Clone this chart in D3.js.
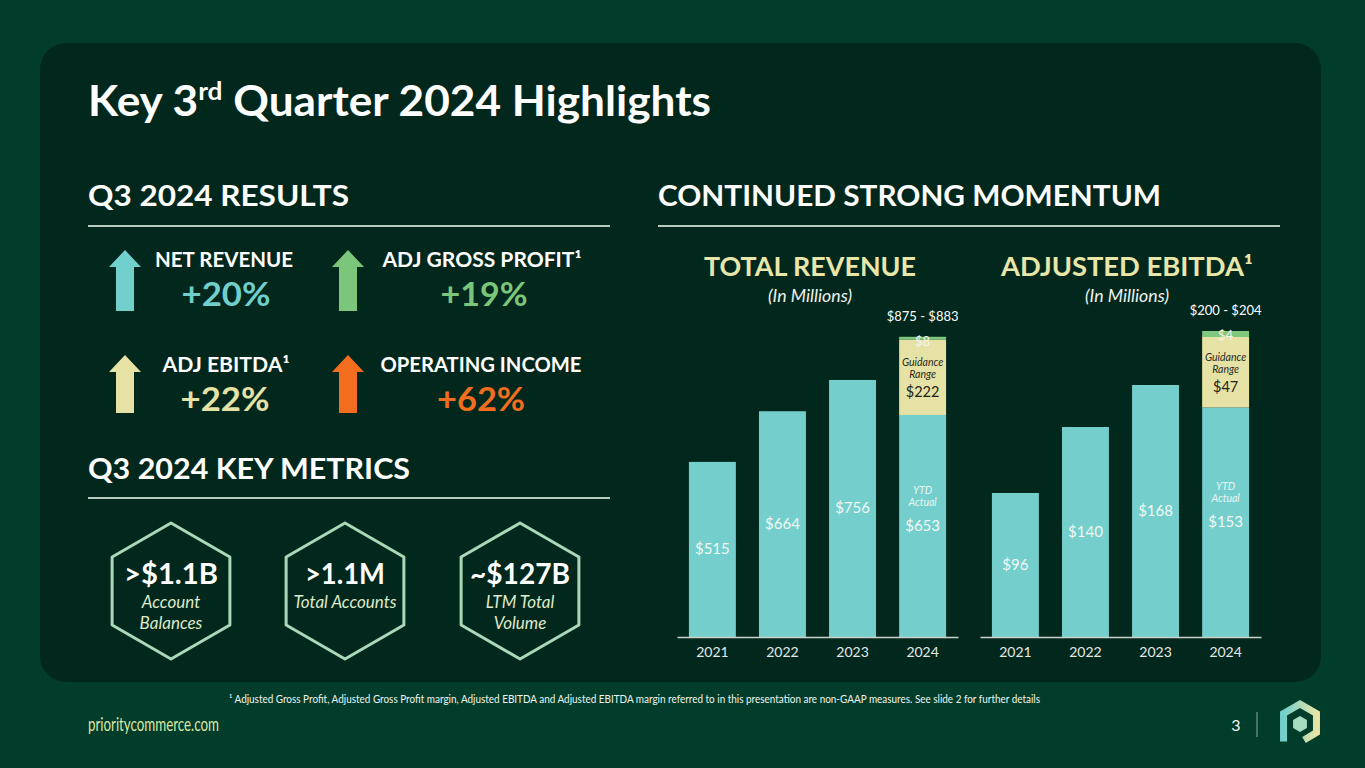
<!DOCTYPE html>
<html>
<head>
<meta charset="utf-8">
<script src="https://cdn.jsdelivr.net/npm/d3@7"></script>
<style>
  body { margin: 0; background: #013d2a; }
  svg { display: block; }
  text { font-family: "Lato", "Noto Sans", sans-serif; }
</style>
</head>
<body>
<div id="chart"></div>
<script>
// ---- data ----
let years = ["2021", "2022", "2023", "2024"];

let revenueActual = [515, 664, 756, 653];   // 2024 = YTD actual
let revenueGuidance = [0, 0, 0, 222];       // guidance range remaining
let revenueTop = [0, 0, 0, 8];              // low-to-high spread
let revenueRange = "$875 - $883";

let ebitdaActual = [96, 140, 168, 153];
let ebitdaGuidance = [0, 0, 0, 47];
let ebitdaTop = [0, 0, 0, 4];
let ebitdaRange = "$200 - $204";

let results = [
  {label: "NET REVENUE", value: "+20%"},
  {label: "ADJ GROSS PROFIT\u00b9", value: "+19%"},
  {label: "ADJ EBITDA\u00b9", value: "+22%"},
  {label: "OPERATING INCOME", value: "+62%"}
];
let resultColors = ["#71cfcc", "#7cc67b", "#e6e2a6", "#f36d1f"];

let metrics = [
  {value: ">$1.1B", lines: ["Account", "Balances"]},
  {value: ">1.1M", lines: ["Total Accounts"]},
  {value: "~$127B", lines: ["LTM Total", "Volume"]}
];

let footnote = "\u00b9 Adjusted Gross Profit, Adjusted Gross Profit margin, Adjusted EBITDA and Adjusted EBITDA margin referred to in this presentation are non-GAAP measures. See slide 2 for further details";

// ---- colours ----
let teal = "#74cfcc", cream = "#e6e2a6", green = "#7fc97f";
let panelColor = "#02281d";
let lineColor = "#b9cbbf";

let W = 1365, H = 768;

let svg = d3.select("#chart")
    .append("svg")
    .attr("width", W)
    .attr("height", H);

svg.append("rect")
    .attr("width", W).attr("height", H)
    .attr("fill", "#013d2a");

svg.append("rect")
    .attr("x", 40).attr("y", 43)
    .attr("width", 1281).attr("height", 639)
    .attr("rx", 26)
    .attr("fill", panelColor);

// helper for text
function label(g, x, y, str, o) {
  o = o || {};
  let t = g.append("text")
      .attr("x", x).attr("y", y)
      .attr("fill", o.fill || "#ffffff")
      .attr("font-size", o.size || 14)
      .attr("font-weight", o.weight || "normal")
      .attr("font-style", o.style || "normal")
      .attr("text-anchor", o.anchor || "start")
      .text(str);
  if (o.width) t.attr("textLength", o.width).attr("lengthAdjust", "spacingAndGlyphs");
  return t;
}

// ---- title ----
let title = svg.append("text")
    .attr("x", 88).attr("y", 116)
    .attr("fill", "#ffffff")
    .attr("font-size", 42)
    .attr("font-weight", "bold")
    .attr("textLength", 623)
    .attr("lengthAdjust", "spacingAndGlyphs");
title.append("tspan").text("Key 3");
title.append("tspan").attr("font-size", 25).attr("dy", -16).text("rd");
title.append("tspan").attr("dy", 16).text(" Quarter 2024 Highlights");

// ---- section headers ----
label(svg, 88, 206, "Q3 2024 RESULTS", {size: 28, weight: "bold", width: 261});
label(svg, 658, 206, "CONTINUED STRONG MOMENTUM", {size: 28, weight: "bold", width: 503});
label(svg, 88, 479, "Q3 2024 KEY METRICS", {size: 28, weight: "bold", width: 322});

[[88, 610, 226], [658, 1280, 226], [88, 610, 498]].forEach(function(l) {
  svg.append("line")
      .attr("x1", l[0]).attr("x2", l[1])
      .attr("y1", l[2]).attr("y2", l[2])
      .attr("stroke", lineColor)
      .attr("stroke-width", 2);
});

// ---- results with arrows ----
let arrowPos = [[125, 250], [348, 250], [125, 355], [348, 355]];
let textCenters = [[224, 226], [482, 484], [226, 225], [481, 481]];
let labelWidths = [138, 199, 127, 201];
let valueWidths = [89, 87, 89, 88];

results.forEach(function(d, i) {
  let ax = arrowPos[i][0], ay = arrowPos[i][1];
  let h = i < 2 ? 61 : 58;
  svg.append("path")
      .attr("d", d3.line()([
        [ax, ay], [ax + 16, ay + 17], [ax + 9, ay + 17], [ax + 9, ay + h],
        [ax - 9, ay + h], [ax - 9, ay + 17], [ax - 16, ay + 17]
      ]) + "Z")
      .attr("fill", resultColors[i]);

  label(svg, textCenters[i][0], ay + 17, d.label,
        {size: 21, weight: "bold", anchor: "middle", width: labelWidths[i]});
  label(svg, textCenters[i][1], ay + 56, d.value,
        {size: 33, weight: "bold", anchor: "middle", fill: resultColors[i], width: valueWidths[i]});
});

// ---- key metric hexagons ----
let hexCenters = [171, 345, 520];
let hexValueWidths = [94, 80, 100];
let hexR = 68;
metrics.forEach(function(d, i) {
  let cx = hexCenters[i], cy = 591;
  let pts = d3.range(6).map(function(k) {
    let a = Math.PI / 3 * k - Math.PI / 2;
    return [cx + hexR * Math.cos(a), cy + hexR * Math.sin(a)];
  });
  svg.append("path")
      .attr("d", d3.line()(pts) + "Z")
      .attr("fill", "none")
      .attr("stroke", "#a9d9b9")
      .attr("stroke-width", 3)
      .attr("stroke-linejoin", "round");

  label(svg, cx, 584, d.value, {size: 28, weight: "bold", anchor: "middle", width: hexValueWidths[i]});
  d.lines.forEach(function(s, j) {
    label(svg, cx, 608 + j * 21, s, {size: 17, style: "italic", anchor: "middle", fill: "#dfe9c9"});
  });
});

// ---- bar charts ----
function barChart(opts) {
  let g = svg.append("g");

  let x = d3.scaleBand()
      .domain(years)
      .range(opts.xRange)
      .paddingInner(0.33)
      .paddingOuter(0.17);

  let y = d3.scaleLinear()
      .domain(opts.yDomain)
      .range([637, 297]);

  let rows = years.map(function(yr, i) {
    return {year: yr, actual: opts.actual[i], guide: opts.guide[i], top: opts.top[i]};
  });

  // actual bars
  g.selectAll(".bar")
      .data(rows)
      .join("rect")
      .attr("class", "bar")
      .attr("x", d => x(d.year))
      .attr("width", x.bandwidth())
      .attr("y", d => y(d.actual))
      .attr("height", d => y(0) - y(d.actual))
      .attr("fill", teal);

  let guided = rows.filter(d => d.guide > 0);

  g.selectAll(".guide")
      .data(guided)
      .join("rect")
      .attr("class", "guide")
      .attr("x", d => x(d.year))
      .attr("width", x.bandwidth())
      .attr("y", d => y(d.actual + d.guide))
      .attr("height", d => y(d.actual) - y(d.actual + d.guide))
      .attr("fill", cream);

  g.selectAll(".top")
      .data(guided)
      .join("rect")
      .attr("class", "top")
      .attr("x", d => x(d.year))
      .attr("width", x.bandwidth())
      .attr("y", d => y(d.actual + d.guide + d.top))
      .attr("height", d => Math.max(2, y(d.actual + d.guide) - y(d.actual + d.guide + d.top)))
      .attr("fill", green);

  // value labels centred in the actual bars
  rows.forEach(function(d) {
    let cx = x(d.year) + x.bandwidth() / 2;
    let cy = (y(0) + y(d.actual)) / 2;
    label(g, cx, cy + 5, "$" + d.actual, {size: 15, anchor: "middle", fill: "#f2f7f4"});
    if (d.guide > 0) {
      label(g, cx, cy - 32, "YTD", {size: 10.5, style: "italic", anchor: "middle", fill: "#e8f5f3"});
      label(g, cx, cy - 20, "Actual", {size: 10.5, style: "italic", anchor: "middle", fill: "#e8f5f3"});

      let gy = (y(d.actual) + y(d.actual + d.guide)) / 2;
      label(g, cx, gy - 11, "Guidance", {size: 10.5, style: "italic", anchor: "middle", fill: "#2a2a1c"});
      label(g, cx, gy + 1, "Range", {size: 10.5, style: "italic", anchor: "middle", fill: "#2a2a1c"});
      label(g, cx, gy + 20, "$" + d.guide, {size: 14.5, anchor: "middle", fill: "#222217"});

      let topY = y(d.actual + d.guide + d.top);
      label(g, cx, topY + 9, "$" + d.top, {size: 13, anchor: "middle", fill: "#f4f4ee"});
      label(g, cx, topY - 16, opts.range, {size: 13, anchor: "middle", fill: "#ffffff"});
    }
  });

  // x axis
  let axis = g.append("g")
      .attr("transform", "translate(0,637)")
      .call(d3.axisBottom(x).tickSize(0).tickPadding(10).tickSizeOuter(0));
  axis.select(".domain").attr("stroke", "#c9d3cc").attr("stroke-width", 1.5);
  axis.selectAll("text")
      .attr("fill", "#e4e8e6")
      .attr("font-size", 14)
      .attr("font-family", "'Liberation Sans', Arial, sans-serif");

  // titles
  let cxT = opts.titleX;
  g.append("text")
      .attr("x", cxT).attr("y", 276)
      .attr("text-anchor", "middle")
      .attr("fill", "#e9e6aa")
      .attr("font-size", 26)
      .attr("font-weight", "bold")
      .attr("textLength", opts.titleWidth)
      .attr("lengthAdjust", "spacingAndGlyphs")
      .text(opts.title);
  label(g, cxT, 302, "(In Millions)", {size: 17, style: "italic", anchor: "middle", fill: "#eef2ee", width: 84});
}

barChart({
  xRange: [677, 958],
  yDomain: [0, 1000],
  actual: revenueActual, guide: revenueGuidance, top: revenueTop,
  range: revenueRange,
  title: "TOTAL REVENUE", titleX: 810, titleWidth: 212
});

barChart({
  xRange: [980, 1261],
  yDomain: [0, 226.67],
  actual: ebitdaActual, guide: ebitdaGuidance, top: ebitdaTop,
  range: ebitdaRange,
  title: "ADJUSTED EBITDA\u00b9", titleX: 1127, titleWidth: 252
});

// ---- footer ----
label(svg, 229, 703, footnote, {size: 10.5, fill: "#f0f4f0", width: 811});
label(svg, 88, 731, "prioritycommerce.com", {size: 19, fill: "#dbe6a6", width: 131});
label(svg, 1236, 731, "3", {size: 16, anchor: "middle", fill: "#f0f4f0"});
svg.append("line")
    .attr("x1", 1257).attr("x2", 1257)
    .attr("y1", 712).attr("y2", 737)
    .attr("stroke", "#8fa89a").attr("stroke-width", 1);

// logo
let defs = svg.append("defs");
let grad = defs.append("linearGradient").attr("id", "logoGrad")
    .attr("x1", "0%").attr("x2", "100%").attr("y1", "0%").attr("y2", "0%");
grad.append("stop").attr("offset", "0%").attr("stop-color", "#71cfcc");
grad.append("stop").attr("offset", "100%").attr("stop-color", "#e8e4a6");

let lx = 1300, ly = 723, lr = 19, lw = lr * Math.sqrt(3) / 2;
svg.append("path")
    .attr("d", d3.line()([
      [lx - lw, ly + lr / 2 + 9], [lx - lw, ly - lr / 2], [lx, ly - lr],
      [lx + lw, ly - lr / 2], [lx + lw, ly + lr / 2], [lx + 4, ly + lr - 2]
    ]))
    .attr("fill", "none")
    .attr("stroke", "url(#logoGrad)")
    .attr("stroke-width", 7)
    .attr("stroke-linejoin", "miter");
let ir = 8;
svg.append("path")
    .attr("d", d3.line()(d3.range(6).map(function(k) {
      let a = Math.PI / 3 * k - Math.PI / 2;
      return [lx + ir * Math.cos(a), ly + 1 + ir * Math.sin(a)];
    })) + "Z")
    .attr("fill", "#a6dcc0");
</script>
</body>
</html>
